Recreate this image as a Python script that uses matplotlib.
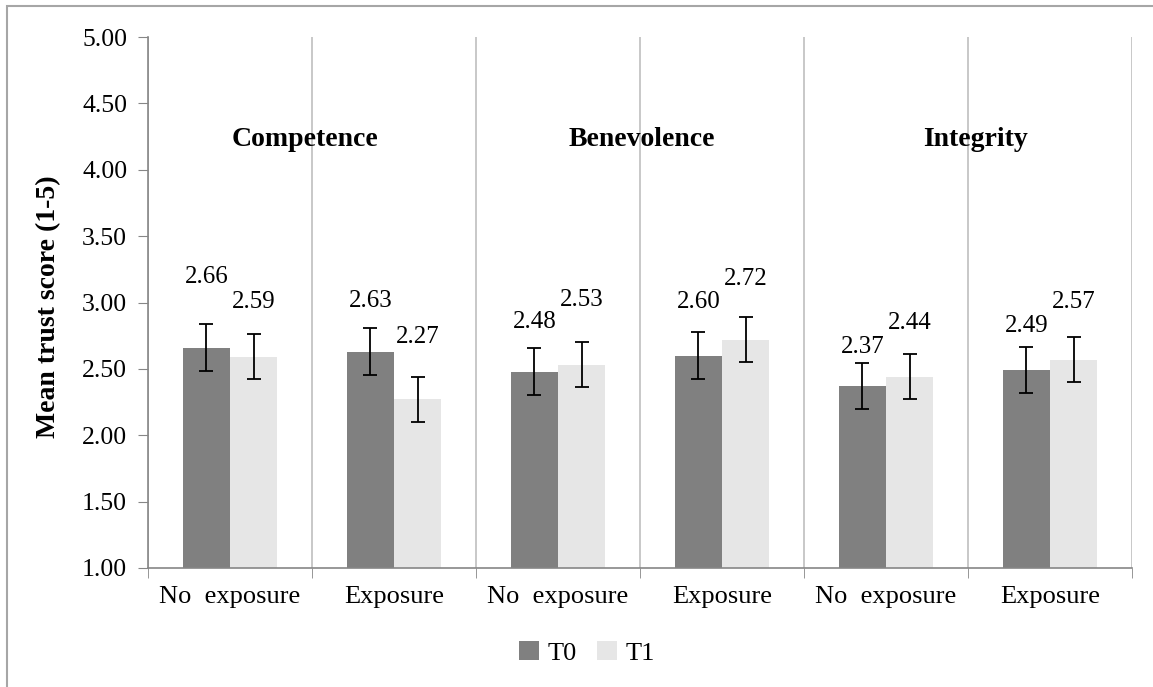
import matplotlib.pyplot as plt
import numpy as np
from matplotlib.patches import Rectangle

plt.rcParams['font.family'] = ['Liberation Serif', 'DejaVu Serif']

# data
categories = ['No  exposure', 'Exposure', 'No  exposure', 'Exposure', 'No  exposure', 'Exposure']
groups = ['Competence', 'Benevolence', 'Integrity']
t0 = [2.66, 2.63, 2.48, 2.60, 2.37, 2.49]
t1 = [2.59, 2.27, 2.53, 2.72, 2.44, 2.57]
t0_err = [0.175, 0.175, 0.175, 0.175, 0.175, 0.175]
t1_err = [0.17, 0.17, 0.17, 0.17, 0.17, 0.17]
# where Excel put the value labels (data units)
t0_label_y = [3.195, 3.014, 2.855, 3.006, 2.667, 2.825]
t1_label_y = [3.0, 2.738, 3.02, 3.18, 2.848, 3.0]

fig = plt.figure(figsize=(11.53, 6.87), dpi=100)
ax = fig.add_axes([148/1153, 1 - 568/687, (1132 - 148)/1153, (568 - 37)/687])

x = np.arange(len(categories))
w = 0.287
ax.bar(x - w/2, t0, w, bottom=0, color='#808080', label='T0', zorder=2)
ax.bar(x + w/2, t1, w, bottom=0, color='#E6E6E6', label='T1', zorder=2)
ax.errorbar(x - w/2, t0, yerr=t0_err, fmt='none', ecolor='black', elinewidth=1.3, capsize=5, capthick=1.3, zorder=3)
ax.errorbar(x + w/2, t1, yerr=t1_err, fmt='none', ecolor='black', elinewidth=1.3, capsize=5, capthick=1.3, zorder=3)

for i in range(len(categories)):
    ax.text(x[i] - w/2, t0_label_y[i], f'{t0[i]:.2f}', ha='center', va='center', fontsize=18)
    ax.text(x[i] + w/2, t1_label_y[i], f'{t1[i]:.2f}', ha='center', va='center', fontsize=18)

# group titles
for gx, g in zip([0.457, 2.512, 4.546], groups):
    ax.text(gx, 4.23, g, ha='center', va='center', fontsize=20, fontweight='bold')

ax.set_xlim(-0.5, 5.5)
ax.set_ylim(1, 5)
ax.set_yticks(np.arange(1, 5.01, 0.5))
ax.set_yticklabels([f'{v:.2f}' for v in np.arange(1, 5.01, 0.5)])
ax.set_xticks(x)
ax.set_xticklabels(categories)
ax.set_xticks(np.arange(-0.5, 5.6, 1), minor=True)
ax.tick_params(axis='x', which='major', length=0, labelsize=19, pad=13)
ax.tick_params(axis='x', which='minor', length=7, color='#868686', direction='out')
ax.tick_params(axis='y', length=7, color='#868686', labelsize=18.5, pad=8)

ax.grid(True, axis='x', which='minor', color='#BFBFBF', linewidth=1.2)
ax.set_axisbelow(True)
for s in ['top', 'right']:
    ax.spines[s].set_visible(False)
for s in ['left', 'bottom']:
    ax.spines[s].set_color('#868686')
    ax.spines[s].set_linewidth(1.2)

fig.text(49/1153, 1 - 307/687, 'Mean trust score (1-5)', rotation=90, ha='center', va='center',
         fontsize=20, fontweight='bold')

ax.legend(loc='center', bbox_to_anchor=(587/1153, 1 - 653/687), bbox_transform=fig.transFigure, ncol=2,
          frameon=False, fontsize=19, handlelength=0.75, handleheight=0.75, handletextpad=0.3,
          columnspacing=0.8)

# outer chart border (Excel chart area)
fig.patches.append(Rectangle((7/1153, -0.05), 1.2, 1 - 6/687 + 0.05, transform=fig.transFigure,
                             fill=False, edgecolor='#A6A6A6', linewidth=1.5))

fig.savefig('out.png', dpi=100)
